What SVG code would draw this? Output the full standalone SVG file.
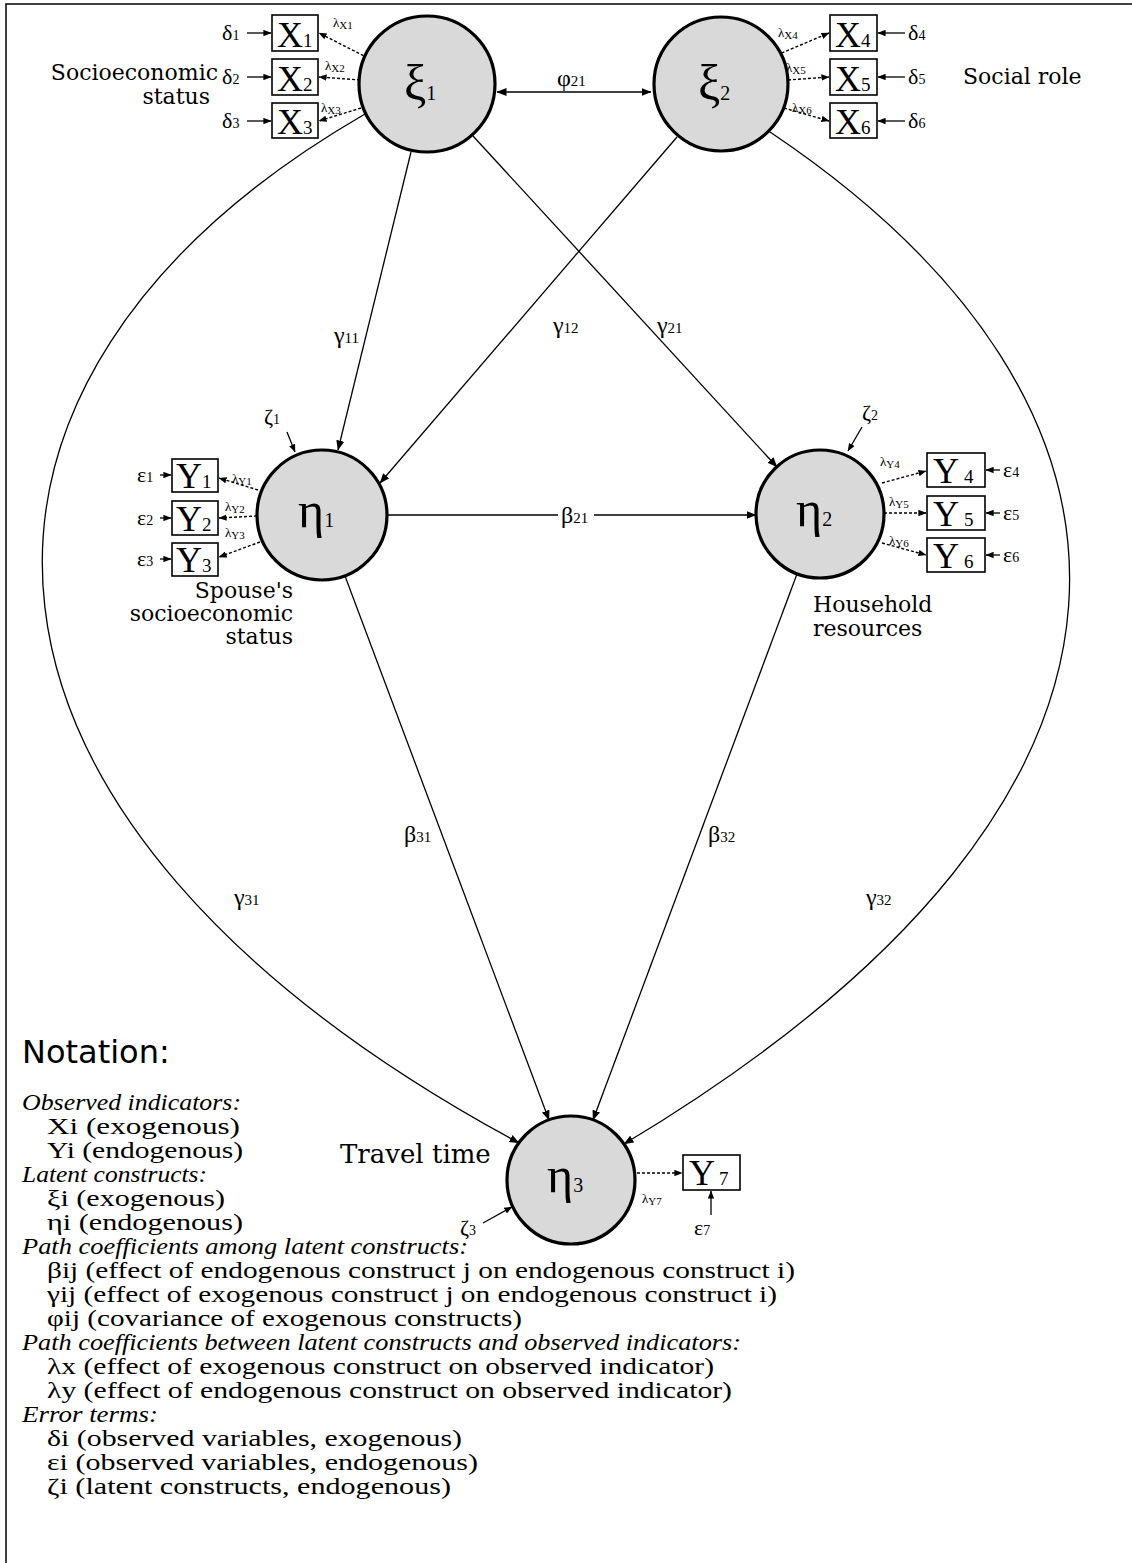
<svg xmlns="http://www.w3.org/2000/svg" width="1132" height="1563" viewBox="0 0 1132 1563">
<defs>
<marker id="ah" viewBox="0 0 10 8" refX="9.5" refY="4" markerWidth="10" markerHeight="8" markerUnits="userSpaceOnUse" orient="auto-start-reverse"><path d="M0,0 L10,4 L0,8 z" fill="#000"/></marker>
<marker id="ahs" viewBox="0 0 10 8" refX="9.5" refY="4" markerWidth="8" markerHeight="6.4" markerUnits="userSpaceOnUse" orient="auto"><path d="M0,0 L10,4 L0,8 z" fill="#000"/></marker>
</defs>
<style>
.frame{fill:none;stroke:#000;stroke-width:1.5}
.lat{fill:#d9d9d9;stroke:#000;stroke-width:3.2}
.box{fill:#fff;stroke:#000;stroke-width:1.6}
.pth{fill:none;stroke:#000;stroke-width:1.3;marker-end:url(#ah)}
.er{fill:none;stroke:#000;stroke-width:1.3;marker-end:url(#ahs)}
.dash{fill:none;stroke:#000;stroke-width:1.4;stroke-dasharray:3 2;marker-end:url(#ahs)}
text{font-family:"Liberation Serif","Times New Roman",serif;fill:#000}
.big{font-size:50px}
.bsub{font-size:20px}
.obs{font-size:36px}
.osub{font-size:19px}
.e{font-size:22px}
.esub{font-size:14px}
.c{font-size:24px}
.csub{font-size:15px}
.lam{font-size:13px}
.lsub{font-size:11px}
.lbl{font-family:"DejaVu Serif",serif;font-size:22px}
.tt{font-family:"DejaVu Serif",serif;font-size:26px}
.nt{font-family:"DejaVu Sans",sans-serif;font-size:32px}
.nh{font-size:23px;font-style:italic}
.nl{font-size:23px}
</style>
<rect x="0" y="0" width="1132" height="1563" fill="#fff"/>
<path class="frame" d="M6,1563 V4 H1132"/>

<g id="connectors">
<line class="pth" x1="497" y1="92" x2="651" y2="92" marker-start="url(#ah)"/>
<text class="c" x="557" y="86">φ<tspan class="csub">21</tspan></text>
<line class="pth" x1="411" y1="152" x2="338" y2="450"/>
<text class="c" x="334" y="343">γ<tspan class="csub">11</tspan></text>
<line class="pth" x1="677" y1="137" x2="380" y2="483"/>
<text class="c" x="553" y="333">γ<tspan class="csub">12</tspan></text>
<line class="pth" x1="473" y1="136" x2="777" y2="467"/>
<text class="c" x="657" y="333">γ<tspan class="csub">21</tspan></text>
<line x1="387" y1="515" x2="558" y2="515" stroke="#000" stroke-width="1.3"/>
<line class="pth" x1="594" y1="515" x2="756" y2="515"/>
<text class="c" x="561" y="523">β<tspan class="csub">21</tspan></text>
<line class="pth" x1="345" y1="576" x2="549" y2="1120"/>
<text class="c" x="404" y="842">β<tspan class="csub">31</tspan></text>
<line class="pth" x1="797" y1="574" x2="593" y2="1120"/>
<text class="c" x="708" y="842">β<tspan class="csub">32</tspan></text>
<path class="pth" d="M365,114 C-95,380 -80,820 519,1143"/>
<text class="c" x="234" y="905">γ<tspan class="csub">31</tspan></text>
<path class="pth" d="M770,132 C1170,400 1215,790 624,1144"/>
<text class="c" x="866" y="905">γ<tspan class="csub">32</tspan></text>
<line class="er" x1="287" y1="432" x2="295" y2="452"/>
<text class="e" x="264" y="424">ζ<tspan class="esub">1</tspan></text>
<line class="er" x1="862" y1="427" x2="848" y2="451"/>
<text class="e" x="862" y="420">ζ<tspan class="esub">2</tspan></text>
<line class="er" x1="483" y1="1223" x2="512" y2="1207"/>
<text class="e" x="460" y="1235">ζ<tspan class="esub">3</tspan></text>
<line class="dash" x1="368" y1="58" x2="319" y2="33"/>
<line class="dash" x1="360" y1="80" x2="319" y2="77"/>
<line class="dash" x1="361" y1="108" x2="319" y2="121"/>
<text class="lam" x="333" y="27">λ<tspan class="lsub" dy="2">X1</tspan></text>
<text class="lam" x="325" y="70">λ<tspan class="lsub" dy="2">X2</tspan></text>
<text class="lam" x="321" y="112">λ<tspan class="lsub" dy="2">X3</tspan></text>
<line class="dash" x1="777" y1="55" x2="829" y2="33"/>
<line class="dash" x1="788" y1="80" x2="829" y2="77"/>
<line class="dash" x1="784" y1="108" x2="829" y2="121"/>
<text class="lam" x="778" y="37">λ<tspan class="lsub" dy="2">X4</tspan></text>
<text class="lam" x="786" y="72">λ<tspan class="lsub" dy="2">X5</tspan></text>
<text class="lam" x="792" y="112">λ<tspan class="lsub" dy="2">X6</tspan></text>
<line class="dash" x1="258" y1="490" x2="219" y2="478"/>
<line class="dash" x1="257" y1="516" x2="219" y2="518"/>
<line class="dash" x1="260" y1="542" x2="219" y2="557"/>
<text class="lam" x="232" y="483">λ<tspan class="lsub" dy="2">Y1</tspan></text>
<text class="lam" x="225" y="511">λ<tspan class="lsub" dy="2">Y2</tspan></text>
<text class="lam" x="225" y="537">λ<tspan class="lsub" dy="2">Y3</tspan></text>
<line class="dash" x1="882" y1="483" x2="926" y2="471"/>
<line class="dash" x1="884" y1="513" x2="926" y2="513"/>
<line class="dash" x1="882" y1="543" x2="926" y2="555"/>
<text class="lam" x="880" y="466">λ<tspan class="lsub" dy="2">Y4</tspan></text>
<text class="lam" x="889" y="506">λ<tspan class="lsub" dy="2">Y5</tspan></text>
<text class="lam" x="889" y="545">λ<tspan class="lsub" dy="2">Y6</tspan></text>
<line class="dash" x1="637" y1="1173" x2="682" y2="1173"/>
<text class="lam" x="642" y="1203">λ<tspan class="lsub" dy="2">Y7</tspan></text>
</g>

<g id="xi1"><circle class="lat" cx="427" cy="84" r="68"/><text class="big" x="404" y="100">ξ<tspan class="bsub">1</tspan></text>
<text class="lbl" x="218" y="80" text-anchor="end">Socioeconomic</text><text class="lbl" x="210" y="104" text-anchor="end">status</text></g>
<g id="xi2"><circle class="lat" cx="721" cy="84" r="67"/><text class="big" x="698" y="100">ξ<tspan class="bsub">2</tspan></text>
<text class="lbl" x="963" y="84">Social role</text></g>
<g id="eta1"><circle class="lat" cx="322" cy="515" r="65"/><text class="big" x="298" y="527">η<tspan class="bsub">1</tspan></text>
<text class="lbl" x="293" y="598" text-anchor="end">Spouse's</text><text class="lbl" x="293" y="621" text-anchor="end">socioeconomic</text><text class="lbl" x="293" y="644" text-anchor="end">status</text></g>
<g id="eta2"><circle class="lat" cx="820" cy="514" r="64"/><text class="big" x="796" y="526">η<tspan class="bsub">2</tspan></text>
<text class="lbl" x="813" y="612">Household</text><text class="lbl" x="813" y="636">resources</text></g>
<g id="eta3"><circle class="lat" cx="571" cy="1180" r="64"/><text class="big" x="547" y="1192">η<tspan class="bsub">3</tspan></text>
<text class="tt" x="340" y="1163">Travel time</text></g>

<g id="X1"><rect class="box" x="272" y="15" width="46" height="36"/><text class="obs" x="277" y="47">X<tspan class="osub">1</tspan></text><line class="er" x1="247" y1="33" x2="271" y2="33"/><text class="e" x="222" y="40">δ<tspan class="esub">1</tspan></text></g>
<g id="X2"><rect class="box" x="272" y="59" width="46" height="36"/><text class="obs" x="277" y="91">X<tspan class="osub">2</tspan></text><line class="er" x1="247" y1="77" x2="271" y2="77"/><text class="e" x="222" y="84">δ<tspan class="esub">2</tspan></text></g>
<g id="X3"><rect class="box" x="272" y="103" width="46" height="35"/><text class="obs" x="277" y="134">X<tspan class="osub">3</tspan></text><line class="er" x1="247" y1="121" x2="271" y2="121"/><text class="e" x="222" y="128">δ<tspan class="esub">3</tspan></text></g>
<g id="X4"><rect class="box" x="830" y="15" width="47" height="36"/><text class="obs" x="835" y="47">X<tspan class="osub">4</tspan></text><line class="er" x1="905" y1="33" x2="878" y2="33"/><text class="e" x="908" y="40">δ<tspan class="esub">4</tspan></text></g>
<g id="X5"><rect class="box" x="830" y="59" width="47" height="36"/><text class="obs" x="835" y="91">X<tspan class="osub">5</tspan></text><line class="er" x1="905" y1="77" x2="878" y2="77"/><text class="e" x="908" y="84">δ<tspan class="esub">5</tspan></text></g>
<g id="X6"><rect class="box" x="830" y="103" width="47" height="35"/><text class="obs" x="835" y="134">X<tspan class="osub">6</tspan></text><line class="er" x1="905" y1="121" x2="878" y2="121"/><text class="e" x="908" y="128">δ<tspan class="esub">6</tspan></text></g>
<g id="Y1"><rect class="box" x="172" y="459" width="46" height="33"/><text class="obs" x="176" y="488">Y<tspan class="osub">1</tspan></text><line class="er" x1="160" y1="475" x2="171" y2="475"/><text class="e" x="137" y="482">ε<tspan class="esub">1</tspan></text></g>
<g id="Y2"><rect class="box" x="172" y="501" width="46" height="34"/><text class="obs" x="176" y="531">Y<tspan class="osub">2</tspan></text><line class="er" x1="160" y1="518" x2="171" y2="518"/><text class="e" x="137" y="525">ε<tspan class="esub">2</tspan></text></g>
<g id="Y3"><rect class="box" x="172" y="543" width="46" height="33"/><text class="obs" x="176" y="572">Y<tspan class="osub">3</tspan></text><line class="er" x1="160" y1="559" x2="171" y2="559"/><text class="e" x="137" y="566">ε<tspan class="esub">3</tspan></text></g>
<g id="Y4"><rect class="box" x="927" y="453" width="58" height="34"/><text class="obs" x="933" y="483">Y<tspan class="osub" dx="5">4</tspan></text><line class="er" x1="1000" y1="470" x2="986" y2="470"/><text class="e" x="1003" y="477">ε<tspan class="esub">4</tspan></text></g>
<g id="Y5"><rect class="box" x="927" y="496" width="58" height="34"/><text class="obs" x="933" y="526">Y<tspan class="osub" dx="5">5</tspan></text><line class="er" x1="1000" y1="513" x2="986" y2="513"/><text class="e" x="1003" y="520">ε<tspan class="esub">5</tspan></text></g>
<g id="Y6"><rect class="box" x="927" y="538" width="58" height="34"/><text class="obs" x="933" y="568">Y<tspan class="osub" dx="5">6</tspan></text><line class="er" x1="1000" y1="555" x2="986" y2="555"/><text class="e" x="1003" y="562">ε<tspan class="esub">6</tspan></text></g>
<g id="Y7"><rect class="box" x="683" y="1155" width="57" height="35"/><text class="obs" x="689" y="1185">Y<tspan class="osub" dx="4">7</tspan></text><line class="er" x1="711" y1="1215" x2="711" y2="1191"/><text class="e" x="694" y="1235">ε<tspan class="esub">7</tspan></text></g>

<g id="notation">
<text class="nt" x="22" y="1063">Notation:</text>
<text class="nh" x="22" y="1110" textLength="219" lengthAdjust="spacingAndGlyphs">Observed indicators:</text>
<text class="nl" x="47" y="1134" textLength="193" lengthAdjust="spacingAndGlyphs">Xi  (exogenous)</text>
<text class="nl" x="47" y="1158" textLength="196" lengthAdjust="spacingAndGlyphs">Yi (endogenous)</text>
<text class="nh" x="22" y="1182" textLength="185" lengthAdjust="spacingAndGlyphs">Latent constructs:</text>
<text class="nl" x="47" y="1206" textLength="178" lengthAdjust="spacingAndGlyphs">ξi (exogenous)</text>
<text class="nl" x="47" y="1230" textLength="196" lengthAdjust="spacingAndGlyphs">ηi (endogenous)</text>
<text class="nh" x="22" y="1254" textLength="446" lengthAdjust="spacingAndGlyphs">Path coefficients among latent constructs:</text>
<text class="nl" x="47" y="1278" textLength="748" lengthAdjust="spacingAndGlyphs">βij (effect of endogenous construct j on endogenous construct i)</text>
<text class="nl" x="47" y="1302" textLength="730" lengthAdjust="spacingAndGlyphs">γij (effect of exogenous construct j on endogenous construct i)</text>
<text class="nl" x="47" y="1326" textLength="475" lengthAdjust="spacingAndGlyphs">φij (covariance of exogenous constructs)</text>
<text class="nh" x="22" y="1350" textLength="719" lengthAdjust="spacingAndGlyphs">Path coefficients between latent constructs and observed indicators:</text>
<text class="nl" x="47" y="1374" textLength="667" lengthAdjust="spacingAndGlyphs">λx (effect of exogenous construct on observed indicator)</text>
<text class="nl" x="47" y="1398" textLength="685" lengthAdjust="spacingAndGlyphs">λy (effect of endogenous construct on observed indicator)</text>
<text class="nh" x="22" y="1422" textLength="136" lengthAdjust="spacingAndGlyphs">Error terms:</text>
<text class="nl" x="47" y="1446" textLength="415" lengthAdjust="spacingAndGlyphs">δi (observed variables, exogenous)</text>
<text class="nl" x="47" y="1470" textLength="431" lengthAdjust="spacingAndGlyphs">εi (observed variables, endogenous)</text>
<text class="nl" x="47" y="1494" textLength="404" lengthAdjust="spacingAndGlyphs">ζi (latent constructs, endogenous)</text>
</g>
</svg>
